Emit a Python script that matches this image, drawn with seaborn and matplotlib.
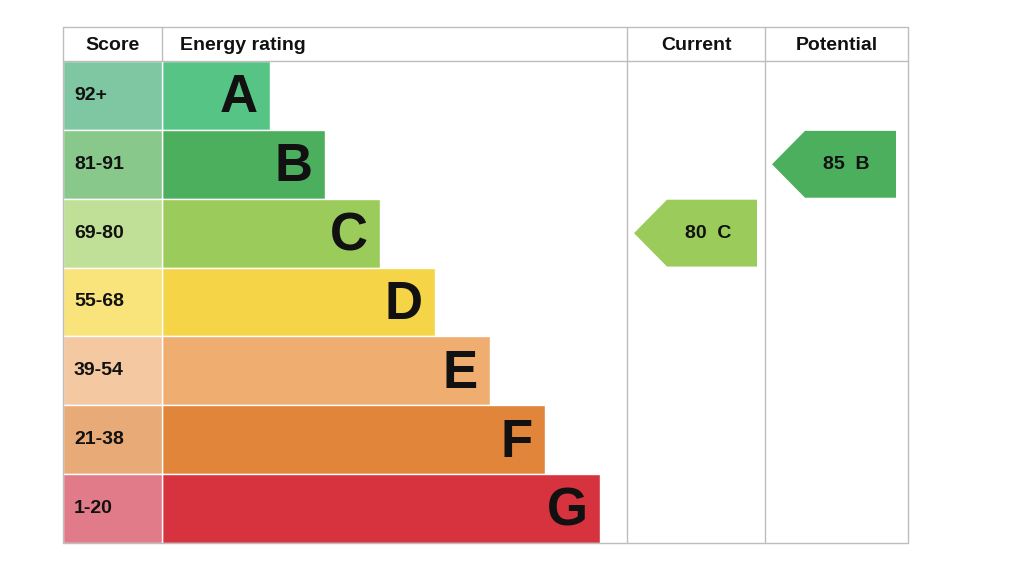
import matplotlib
matplotlib.use("Agg")
import matplotlib.pyplot as plt
import seaborn as sns
from matplotlib.patches import Polygon

sns.set_theme(style="white")
plt.rcParams['font.family'] = ['Liberation Sans', 'DejaVu Sans']

ratings = ["A", "B", "C", "D", "E", "F", "G"]
score_ranges = ["92+", "81-91", "69-80", "55-68", "39-54", "21-38", "1-20"]
bar_colors = ["#55c485", "#4caf5e", "#9bcb5a", "#f5d547", "#efad6f", "#e0853a", "#d7333f"]
cell_colors = ["#7fc6a3", "#88c98b", "#c0df97", "#f9e37b", "#f4c8a0", "#e8ab77", "#e27b89"]
current_score, current_rating = 80, "C"
potential_score, potential_rating = 85, "B"

fig = plt.figure(figsize=(10.24, 5.73), dpi=100)
ax = fig.add_axes([0, 0, 1, 1])
ax.set_xlim(0, 1024); ax.set_ylim(573, 0); ax.axis("off")

L, S, R = 63, 162, 908
C1, C2 = 627, 765
top, head = 27, 61
rh = (543 - head) / 7
grey = "#bdbdbd"

rows = [head + rh * i for i in range(7)]
widths = [108 + 55 * i for i in range(7)]
ax.barh([y + rh / 2 for y in rows], widths, height=rh, left=S, color=bar_colors)
ax.barh([y + rh / 2 for y in rows], [S - L] * 7, height=rh, left=L, color=cell_colors)
for i, y in enumerate(rows):
    ax.text(S + widths[i] - 12, y + rh / 2 + 3, ratings[i], ha="right", va="center",
            fontsize=38, fontweight="bold", color="#111")
    ax.text(L + 11, y + rh / 2, score_ranges[i], ha="left", va="center",
            fontsize=14, fontweight="bold", color="#111")

for x in [L, C1, C2, R]:
    ax.plot([x, x], [top, 543], color=grey, lw=1)
ax.plot([S, S], [top, head], color=grey, lw=1)
for y in [top, head, 543]:
    ax.plot([L, R], [y, y], color=grey, lw=1)
hy = (top + head) / 2 + 1
ax.text((L + S) / 2, hy, "Score", ha="center", va="center", fontsize=14, fontweight="bold", color="#111")
ax.text(S + 18, hy, "Energy rating", ha="left", va="center", fontsize=14, fontweight="bold", color="#111")
ax.text((C1 + C2) / 2, hy, "Current", ha="center", va="center", fontsize=14, fontweight="bold", color="#111")
ax.text((C2 + R) / 2, hy, "Potential", ha="center", va="center", fontsize=14, fontweight="bold", color="#111")

def arrow(x0, x1, rating, score):
    i = ratings.index(rating)
    y0, y1 = rows[i] + 1, rows[i] + rh - 1
    ym = (y0 + y1) / 2
    ax.add_patch(Polygon([(x0, ym), (x0 + 33, y0), (x1, y0), (x1, y1), (x0 + 33, y1)],
                         closed=True, color=bar_colors[i], lw=0))
    ax.text((x0 + 33 + x1) / 2 - 4, ym, f"{score}  {rating}", ha="center", va="center",
            fontsize=14, fontweight="bold", color="#111")

arrow(634, 757, current_rating, current_score)
arrow(772, 896, potential_rating, potential_score)

fig.savefig("out.png", dpi=100)
